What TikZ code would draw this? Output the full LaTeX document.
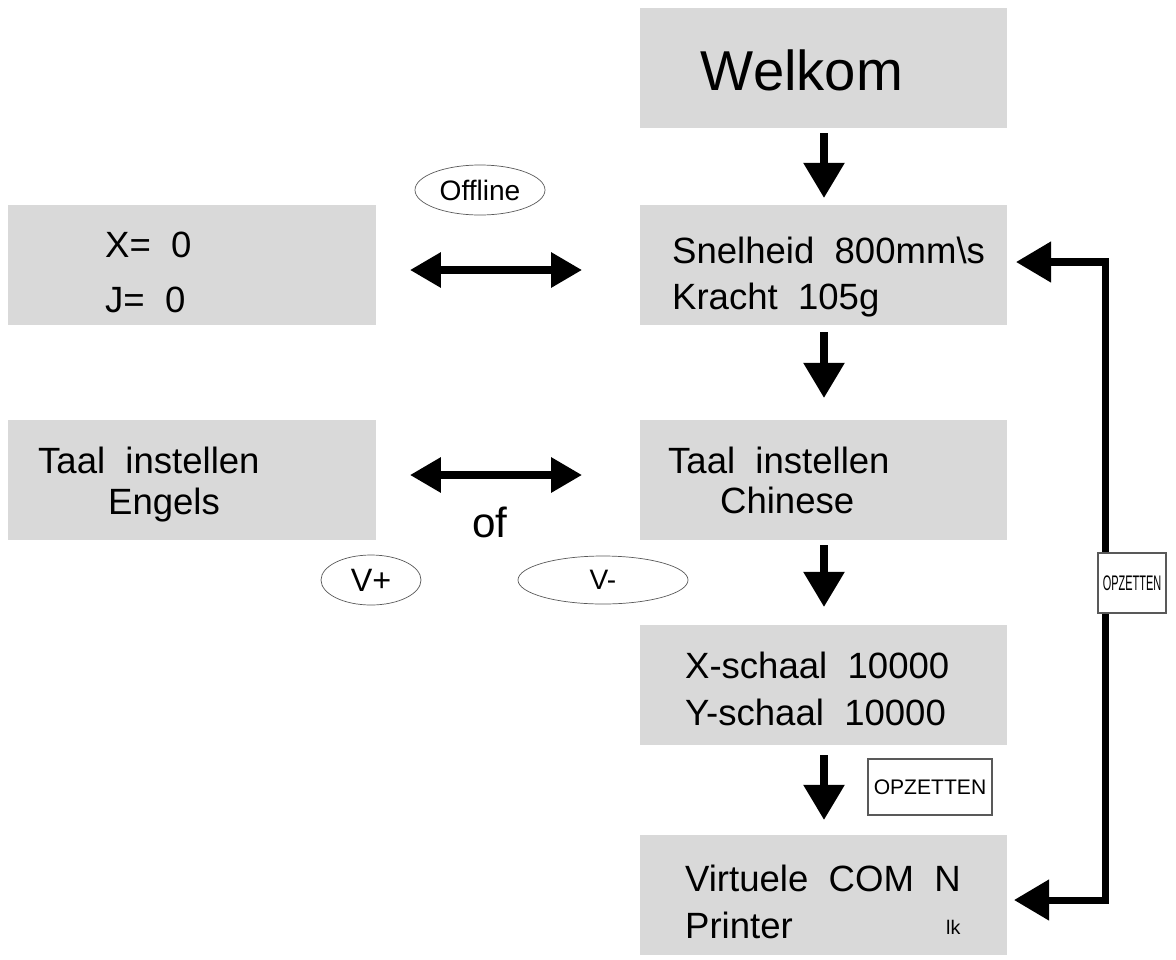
\documentclass[tikz,border=0pt]{standalone}
\usepackage{fontspec}
\setmainfont{Liberation Sans}
\usetikzlibrary{arrows.meta,shapes.geometric}
\begin{document}
\begin{tikzpicture}[x=0.05cm,y=-0.05cm,
  box/.style={fill=gray!30,draw=none,minimum width=18.35cm,minimum height=6cm,inner sep=0},
  txt/.style={anchor=west,font=\fontsize{52}{58}\selectfont,inner sep=0},
  arr/.style={line width=11pt,-{Triangle[length=50pt,width=56pt]}},
  darr/.style={line width=10pt,{Triangle[length=44pt,width=48pt]}-{Triangle[length=44pt,width=48pt]}},
  ell/.style={ellipse,draw=gray!70!black,line width=1pt,inner sep=0},
  btn/.style={draw=gray!70!black,fill=white,line width=1.5pt,font=\fontsize{30}{34}\selectfont,inner sep=0}]
\useasboundingbox (0,0) rectangle (1176,959);
\node[box] (w) at (823.5,68) {};
\node[font=\fontsize{80}{88}\selectfont] (wt) at (802,70) {Welkom};
\node[box] (s) at (823.5,265) {};
\node[box,minimum width=18.4cm] (xy) at (192,265) {};
\node[box] (t) at (823.5,480) {};
\node[box,minimum width=18.4cm] (te) at (192,480) {};
\node[box] (sc) at (823.5,685) {};
\node[box] (v) at (823.5,895) {};
\node[txt] (s1) at (672,250) {Snelheid\ \ 800mm\textbackslash s};
\node[txt] (s2) at (672,300) {Kracht\ \ 105g};
\node[txt] (x1) at (105,245) {X=\ \ 0};
\node[txt] (x2) at (105,300) {J=\ \ 0};
\node[txt] (e1) at (38,460) {Taal\ \ instellen};
\node[txt] (e2) at (108,505) {Engels};
\node[txt] (c1) at (668,460) {Taal\ \ instellen};
\node[txt] (c2) at (720,500) {Chinese};
\node[txt] (k1) at (685,665) {X-schaal\ \ 10000};
\node[txt] (k2) at (685,712) {Y-schaal\ \ 10000};
\node[txt] (v1) at (685,878) {Virtuele\ \ COM\ \ N};
\node[txt] (v2) at (685,925) {Printer};
\node[anchor=west,font=\fontsize{28}{32}\selectfont,inner sep=0] (lk) at (946,927) {lk};
\node[font=\fontsize{60}{66}\selectfont] (of) at (490,522) {of};
\node[ell,minimum width=130*0.05cm,minimum height=50*0.05cm,font=\fontsize{40}{44}\selectfont] (off) at (480,190) {Offline};
\node[ell,minimum width=100*0.05cm,minimum height=50*0.05cm,font=\fontsize{46}{50}\selectfont] (vp) at (371,580) {V+};
\node[ell,minimum width=170*0.05cm,minimum height=48*0.05cm,font=\fontsize{40}{44}\selectfont] (vm) at (603,580) {V-};
\coordinate (a1) at (824,133); \coordinate (a1e) at (824,198);
\coordinate (a2) at (824,332); \coordinate (a2e) at (824,398);
\coordinate (a3) at (824,545); \coordinate (a3e) at (824,607);
\coordinate (a4) at (824,755); \coordinate (a4e) at (824,820);
\draw[arr] (a1) -- (a1e);
\draw[arr] (a2) -- (a2e);
\draw[arr] (a3) -- (a3e);
\draw[arr] (a4) -- (a4e);
\coordinate (d1a) at (410,270); \coordinate (d1b) at (582,270);
\coordinate (d2a) at (410,475); \coordinate (d2b) at (582,475);
\draw[darr] (d1a) -- (d1b);
\draw[darr] (d2a) -- (d2b);
\coordinate (r1) at (1105,900); \coordinate (r2) at (1105,262);
\coordinate (re1) at (1014,900); \coordinate (re2) at (1016,262);
\draw[line width=10pt] (r1) -- (r2);
\draw[arr,line width=10pt] ([xshift=5pt]r1) -- (re1);
\draw[arr,line width=10pt] ([xshift=5pt]r2) -- (re2);
\node[btn,minimum width=68*0.05cm,minimum height=60*0.05cm] (o1) at (1132,583) {\scalebox{0.52}[1]{OPZETTEN}};
\node[btn,minimum width=124*0.05cm,minimum height=56*0.05cm] (o2) at (930,787) {OPZETTEN};
\end{tikzpicture}
\end{document}
